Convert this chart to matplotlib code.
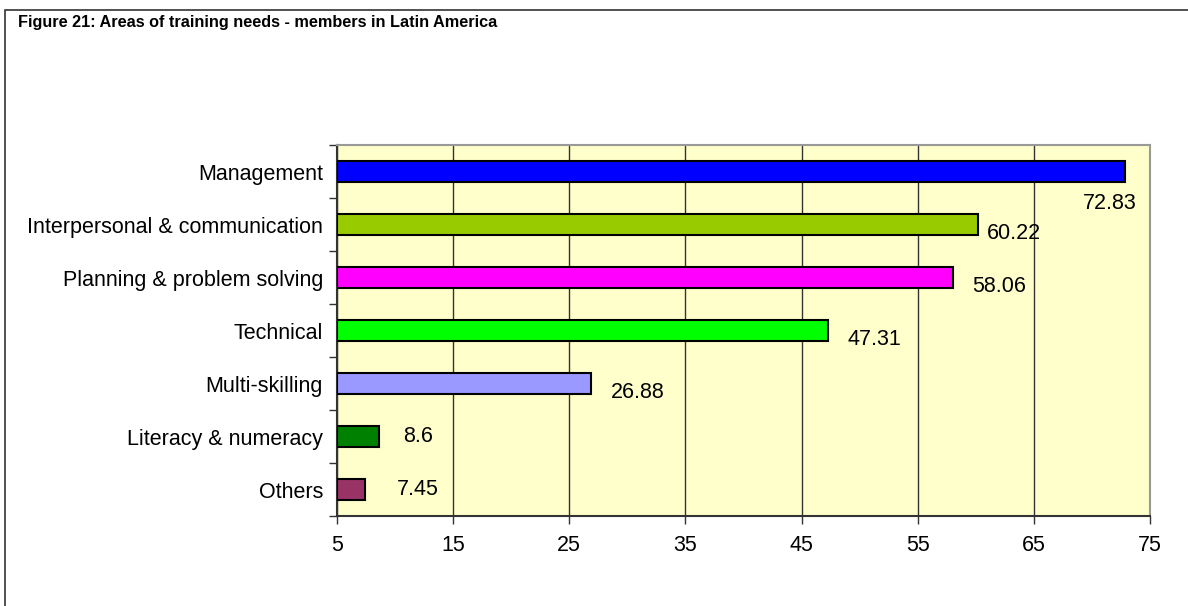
import numpy as np
import matplotlib.pyplot as plt
from matplotlib.patches import Rectangle

plt.rcParams['font.family'] = ['Liberation Sans', 'DejaVu Sans']

# Datos (de arriba hacia abajo)
categories = ['Management', 'Interpersonal & communication', 'Planning & problem solving',
              'Technical', 'Multi-skilling', 'Literacy & numeracy', 'Others']
values = [72.83, 60.22, 58.06, 47.31, 26.88, 8.6, 7.45]
colors = ['#0000FF', '#99CC00', '#FF00FF', '#00FF00', '#9999FF', '#008000', '#993366']
x_ticks = [5, 15, 25, 35, 45, 55, 65, 75]

# desplazamiento de las etiquetas (pixeles)
label_offsets = [(-42, -32), (9, -9), (19, -9), (19, -9), (20, -9), (24, 0), (31, 0)]

fig = plt.figure(figsize=(11.88, 6.06), dpi=100)
fig.patches.append(Rectangle((5 / 1188, -0.05), 1.2, 1 - 10 / 606 + 0.05,
                             transform=fig.transFigure, fill=False,
                             edgecolor='#333333', linewidth=1.2))
fig.text(18 / 1188, 1 - 22 / 606, 'Figure 21: Areas of training needs - members in Latin America',
         fontsize=11.7, fontweight='bold', va='center', ha='left')

ax = fig.add_axes([337 / 1188, 1 - 516 / 606, (1150 - 337) / 1188, (516 - 145) / 606])
ax.set_facecolor('#FFFFCC')

y = np.arange(len(categories))
ax.barh(y, [v - 5 for v in values], left=5, height=0.4, color=colors,
        edgecolor='black', linewidth=1.5, zorder=3)

for i, v in enumerate(values):
    dx, dy = label_offsets[i]
    ax.annotate(str(v), xy=(v, i), xytext=(dx, dy), textcoords='offset pixels',
                ha='left', va='center', fontsize=15.5, zorder=4)

ax.set_xlim(5, 75)
ax.set_ylim(len(categories) - 0.5, -0.5)
ax.set_xticks(x_ticks)
ax.set_xticklabels([str(t) for t in x_ticks])
ax.set_yticks(y)
ax.set_yticklabels(categories)
ax.set_yticks(np.arange(-0.5, len(categories)), minor=True)
ax.tick_params(axis='y', which='major', length=0, pad=10, labelsize=15.5)
ax.tick_params(axis='y', which='minor', length=6, width=1, color='#333333', direction='out')
ax.tick_params(axis='x', length=6, width=1, color='#333333', pad=8, labelsize=15.5)
ax.grid(axis='x', color='#333333', linewidth=1, zorder=1)

for s in ['left', 'bottom']:
    ax.spines[s].set_color('#333333')
    ax.spines[s].set_linewidth(1.5)
for s in ['top', 'right']:
    ax.spines[s].set_color('#999999')
    ax.spines[s].set_linewidth(1.5)

fig.savefig('out.png', dpi=100)
